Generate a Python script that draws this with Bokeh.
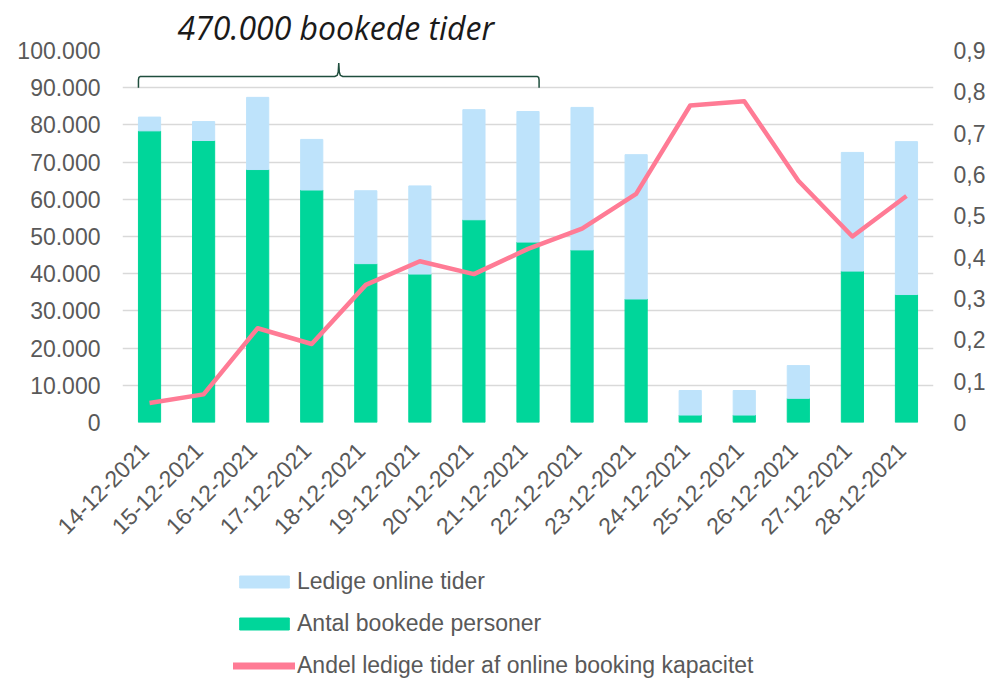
import math
from bokeh.plotting import figure
from bokeh.layouts import column
from bokeh.models import (Range1d, LinearAxis, FixedTicker, CustomJSTickFormatter,
                          Legend, LegendItem, ColumnDataSource)
from bokeh.embed import file_html
from bokeh.resources import INLINE

# ---- data ----
dates = ["14-12-2021", "15-12-2021", "16-12-2021", "17-12-2021", "18-12-2021",
         "19-12-2021", "20-12-2021", "21-12-2021", "22-12-2021", "23-12-2021",
         "24-12-2021", "25-12-2021", "26-12-2021", "27-12-2021", "28-12-2021"]
booked = [78400, 75800, 68000, 62500, 42700, 39900, 54500, 48500, 46400, 33200,
          2000, 2000, 6500, 40700, 34400]
free = [3700, 5100, 19400, 13600, 19600, 23700, 29600, 35100, 38300, 38800,
        6600, 6600, 8800, 31900, 41100]
share = [0.047, 0.068, 0.228, 0.190, 0.333, 0.390, 0.359, 0.420, 0.469, 0.553,
         0.767, 0.777, 0.585, 0.450, 0.548]
left_ticks = [0, 10000, 20000, 30000, 40000, 50000, 60000, 70000, 80000, 90000, 100000]
right_ticks = [0, 0.1, 0.2, 0.3, 0.4, 0.5, 0.6, 0.7, 0.8, 0.9]
title_text = "470.000 bookede tider"
series_labels = ["Ledige online tider", "Antal bookede personer",
                 "Andel ledige tider af online booking kapacitet"]
brace_first, brace_last = 0, 7          # bars covered by the brace
brace_low, brace_mid, brace_peak = 90000, 93000, 96600

GREEN = "#00D69A"
BLUE = "#BEE3FB"
PINK = "#FF7B95"
GRID = "#D9D9D9"
TXT = "#595959"
FONT = "Liberation Sans"
BAR_W = 0.41
LABEL_SHIFT = 0.093   # nudges the rotated date labels slightly left
W = 992
H_TOP = 550
H_LEG = 128

x = list(range(len(dates)))
src = ColumnDataSource(dict(x=x, booked=booked, free=free, share=share))

p = figure(width=W, height=H_TOP, x_range=Range1d(-0.5, len(dates) - 0.5),
           y_range=Range1d(0, 100000), output_backend="svg", toolbar_location=None,
           min_border_left=122, min_border_right=59, min_border_top=50,
           min_border_bottom=H_TOP - 422, x_axis_location=None)
p.outline_line_color = None
p.background_fill_color = "white"
p.border_fill_color = "white"
p.extra_y_ranges = {"right": Range1d(0, 0.9)}
p.extra_x_ranges = {"lab": Range1d(-0.5 + LABEL_SHIFT, len(dates) - 0.5 + LABEL_SHIFT)}

p.title.text = title_text
p.title.text_font = "Open Sans"
p.title.text_font_style = "italic"
p.title.text_font_size = "32px"
p.title.text_color = "#1A1A1A"
p.title.align = "left"
p.title.offset = 55
p.title.standoff = 3

p.xgrid.visible = False
p.ygrid.grid_line_color = GRID
p.ygrid.grid_line_width = 1.6

# left axis
la = p.yaxis[0]
la.ticker = FixedTicker(ticks=left_ticks)
la.formatter = CustomJSTickFormatter(code="""
    var s = Math.round(tick).toString();
    return s.replace(/\\B(?=(\\d{3})+(?!\\d))/g, '.');
""")
# bottom axis (date labels)
ba = LinearAxis(x_range_name="lab", ticker=FixedTicker(ticks=x))
ba.major_label_overrides = {i: d for i, d in enumerate(dates)}
ba.major_label_orientation = math.pi / 4
ba.major_label_standoff = 24
p.add_layout(ba, "below")

ra = LinearAxis(y_range_name="right", ticker=FixedTicker(ticks=right_ticks),
                formatter=CustomJSTickFormatter(code="""
    var v = Math.round(tick * 10) / 10;
    return v.toString().replace('.', ',');
"""))
p.add_layout(ra, "right")

for ax in (la, ba, ra):
    ax.axis_line_color = None
    ax.major_tick_line_color = None
    ax.minor_tick_line_color = None
    ax.major_tick_out = 0
    ax.major_tick_in = 0
    ax.minor_tick_out = 0
    ax.major_label_text_font = FONT
    ax.major_label_text_font_size = "23px"
    ax.major_label_text_color = TXT
la.major_label_standoff = 22
ra.major_label_standoff = 20

# bars
p.vbar_stack(["booked", "free"], x="x", width=BAR_W, source=src, color=[GREEN, BLUE])
# line
p.line("x", "share", source=src, y_range_name="right", line_color=PINK,
       line_width=4.5, line_join="round")

# brace annotation
L = brace_first - BAR_W / 2
R = brace_last + BAR_W / 2
C = (L + R) / 2
d_lo = brace_mid - brace_low
bx = [L, L, L + 0.008, L + 0.03,
      C - 0.075, C - 0.03, C - 0.01, C, C + 0.01, C + 0.03, C + 0.075,
      R - 0.03, R - 0.008, R, R]
by = [brace_low, brace_low + 0.7 * d_lo, brace_low + 0.93 * d_lo, brace_mid,
      brace_mid, brace_mid + 300, brace_mid + 1200, brace_peak, brace_mid + 1200,
      brace_mid + 300, brace_mid,
      brace_mid, brace_low + 0.93 * d_lo, brace_low + 0.7 * d_lo, brace_low]
p.line(bx, by, line_color="#1F4E3D", line_width=1.5)

# ---- legend strip (hidden series renderers, shown only as legend swatches) ----
q = figure(width=W, height=H_LEG, x_range=Range1d(100, 100 + len(dates)),
           y_range=Range1d(-2e6, -1e6), output_backend="svg", toolbar_location=None,
           min_border_left=122, min_border_right=59, min_border_top=0,
           min_border_bottom=0, x_axis_location=None, y_axis_location=None)
q.outline_line_color = None
q.grid.visible = False
q.background_fill_color = "white"
q.border_fill_color = "white"
g_free = q.vbar(x="x", top="free", width=BAR_W, source=src, color=BLUE, visible=False)
g_booked = q.vbar(x="x", top="booked", width=BAR_W, source=src, color=GREEN, visible=False)
g_line = q.line("x", "share", source=src, line_color=PINK, line_width=7,
                line_cap="round", visible=False)

legend = Legend(items=[
    LegendItem(label=series_labels[0], renderers=[g_free]),
    LegendItem(label=series_labels[1], renderers=[g_booked]),
    LegendItem(label=series_labels[2], renderers=[g_line]),
], location=(111, -1), orientation="vertical", glyph_width=62, glyph_height=15,
    label_standoff=2, spacing=15, label_height=27, padding=0, margin=0,
    border_line_color=None, background_fill_alpha=0,
    label_text_font=FONT, label_text_font_size="23px", label_text_color=TXT)
q.add_layout(legend)

layout = column(p, q, spacing=0)
open("out.html", "w").write(file_html(layout, INLINE))
